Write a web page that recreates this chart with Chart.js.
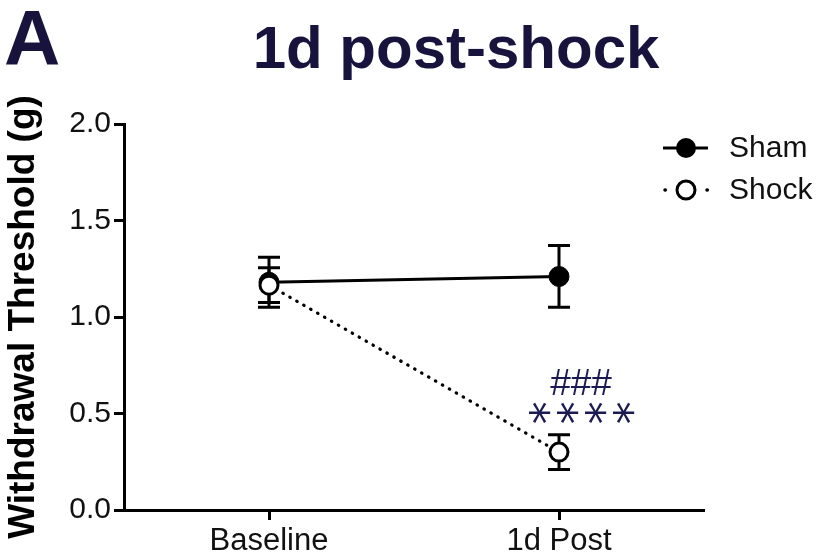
<!DOCTYPE html>
<html>
<head>
<meta charset="utf-8">
<script src="https://cdn.jsdelivr.net/npm/chart.js@4"></script>
<style>
html,body{margin:0;padding:0;background:#fff;}
canvas{display:block;}
</style>
</head>
<body>
<canvas id="c" width="819" height="557"></canvas>
<script>
const categories = ['Baseline', '1d Post'];
const seriesLabels = ['Sham', 'Shock'];
const shamMean = [1.18, 1.21];
const shamSem = [0.13, 0.16];
const shockMean = [1.165, 0.30];
const shockSem = [0.09, 0.09];
const yTicks = [0.0, 0.5, 1.0, 1.5, 2.0];
const yTickLabels = ['0.0', '0.5', '1.0', '1.5', '2.0'];
const panelLetter = 'A';
const chartTitle = '1d post-shock';
const yTitle = 'Withdrawal Threshold (g)';
const sigHash = '###';
const sigStars = '****';

const FONT = "'Liberation Sans', Arial, Helvetica, sans-serif";
const NAVY = '#17133d';
Chart.defaults.font.family = FONT;

const semArrays = [shamSem, shockSem];

const errorBars = {
  id: 'errorBars',
  beforeDatasetsDraw(chart) {
    const ctx = chart.ctx;
    const ys = chart.scales.y;
    chart.data.datasets.forEach((ds, di) => {
      const meta = chart.getDatasetMeta(di);
      const sem = semArrays[di];
      meta.data.forEach((pt, i) => {
        const m = ds.data[i];
        const yt = ys.getPixelForValue(m + sem[i]);
        const yb = ys.getPixelForValue(m - sem[i]);
        ctx.save();
        ctx.strokeStyle = '#000';
        ctx.lineWidth = 3;
        ctx.beginPath();
        ctx.moveTo(pt.x, yt); ctx.lineTo(pt.x, yb);
        ctx.moveTo(pt.x - 11, yt); ctx.lineTo(pt.x + 11, yt);
        ctx.moveTo(pt.x - 11, yb); ctx.lineTo(pt.x + 11, yb);
        ctx.stroke();
        ctx.restore();
      });
    });
  }
};

const decorations = {
  id: 'decorations',
  afterDraw(chart) {
    const ctx = chart.ctx;
    ctx.save();
    // Panel letter and title
    ctx.fillStyle = NAVY;
    ctx.textBaseline = 'alphabetic';
    ctx.textAlign = 'left';
    ctx.font = 'bold 78px ' + FONT;
    ctx.fillText(panelLetter, 4, 65);
    ctx.textAlign = 'center';
    ctx.font = 'bold 60px ' + FONT;
    ctx.fillText(chartTitle, 456, 68);

    // Significance marks above Shock 1d Post
    const meta = chart.getDatasetMeta(1);
    const pt = meta.data[1];
    const ys = chart.scales.y;
    const top = ys.getPixelForValue(shockMean[1] + shockSem[1]);
    const cx = pt.x + 23;
    ctx.fillStyle = '#1c1a52';
    ctx.textAlign = 'center';
    ctx.textBaseline = 'alphabetic';
    ctx.font = '37px ' + FONT;
    ctx.fillText(sigHash, cx - 1, top - 40);
    ctx.font = '46px "DejaVu Sans", ' + FONT;
    const n = sigStars.length;
    for (let k = 0; k < n; k++) {
      const ch = sigStars[k];
      const m = ctx.measureText(ch);
      const gy = (m.actualBoundingBoxDescent - m.actualBoundingBoxAscent) / 2;
      const x = cx + (k - (n - 1) / 2) * 28;
      const y = top - 22;
      ctx.save();
      ctx.translate(x, y);
      ctx.rotate(Math.PI / 2);
      ctx.fillText(ch, 0, -gy);
      ctx.restore();
    }

    // Legend
    const rows = [148, 190];
    chart.data.datasets.forEach((ds, di) => {
      const y = rows[di];
      ctx.strokeStyle = '#000';
      if (di === 0) {
        ctx.lineWidth = 3;
        ctx.lineCap = 'butt';
        ctx.beginPath();
        ctx.moveTo(663, y); ctx.lineTo(708, y);
        ctx.stroke();
      } else {
        ctx.lineWidth = 3.5;
        ctx.lineCap = 'round';
        ctx.beginPath();
        ctx.moveTo(665, y); ctx.lineTo(665.3, y);
        ctx.moveTo(707, y); ctx.lineTo(707.3, y);
        ctx.stroke();
      }
      ctx.beginPath();
      ctx.arc(686, y, di === 1 ? 9 : 10, 0, Math.PI * 2);
      ctx.fillStyle = ds.pointBackgroundColor;
      ctx.fill();
      if (di === 1) { ctx.lineWidth = 3; ctx.stroke(); }
      ctx.fillStyle = '#111';
      ctx.textAlign = 'left';
      ctx.textBaseline = 'middle';
      ctx.font = '30px ' + FONT;
      ctx.fillText(ds.label, 729, y + 1);
    });
    ctx.restore();
  }
};

new Chart(document.getElementById('c'), {
  type: 'line',
  data: {
    labels: categories,
    datasets: [
      {
        label: seriesLabels[0],
        data: shamMean,
        borderColor: '#000',
        borderWidth: 3,
        pointRadius: 10,
        pointBackgroundColor: '#000',
        pointBorderColor: '#000',
        pointBorderWidth: 1,
        fill: false,
        order: 2
      },
      {
        label: seriesLabels[1],
        data: shockMean,
        borderColor: '#000',
        borderWidth: 3.2,
        borderDash: [0.5, 7.5],
        borderCapStyle: 'round',
        pointRadius: 9,
        pointBackgroundColor: '#fff',
        pointBorderColor: '#000',
        pointBorderWidth: 3,
        fill: false,
        order: 1
      }
    ]
  },
  options: {
    responsive: false,
    animation: false,
    events: [],
    layout: { padding: { left: 0, top: 124, right: 115, bottom: 0 } },
    plugins: {
      legend: { display: false },
      title: { display: false },
      tooltip: { enabled: false }
    },
    scales: {
      x: {
        type: 'category',
        offset: true,
        grid: { display: true, drawOnChartArea: false, drawTicks: true, tickLength: 10, tickWidth: 3, tickColor: '#000' },
        border: { display: true, width: 3, color: '#000' },
        ticks: { color: '#111', font: { size: 31 }, padding: 3 },
        afterFit(s) { s.height = 47; }
      },
      y: {
        min: 0, max: 2,
        afterBuildTicks(s) { s.ticks = yTicks.map(v => ({ value: v })); },
        grid: { display: true, drawOnChartArea: false, drawTicks: true, tickLength: 10, tickWidth: 3, tickColor: '#000' },
        border: { display: true, width: 3, color: '#000' },
        ticks: {
          color: '#111', font: { size: 30 }, padding: 3,
          callback(v) { const i = yTicks.indexOf(v); return i >= 0 ? yTickLabels[i] : ''; }
        },
        title: { display: true, text: yTitle, color: '#000', font: { size: 37, weight: 'bold', lineHeight: 1.2 }, padding: { top: 2, bottom: 0 } },
        afterFit(s) { s.width = 124; }
      }
    }
  },
  plugins: [errorBars, decorations]
});
</script>
</body>
</html>
